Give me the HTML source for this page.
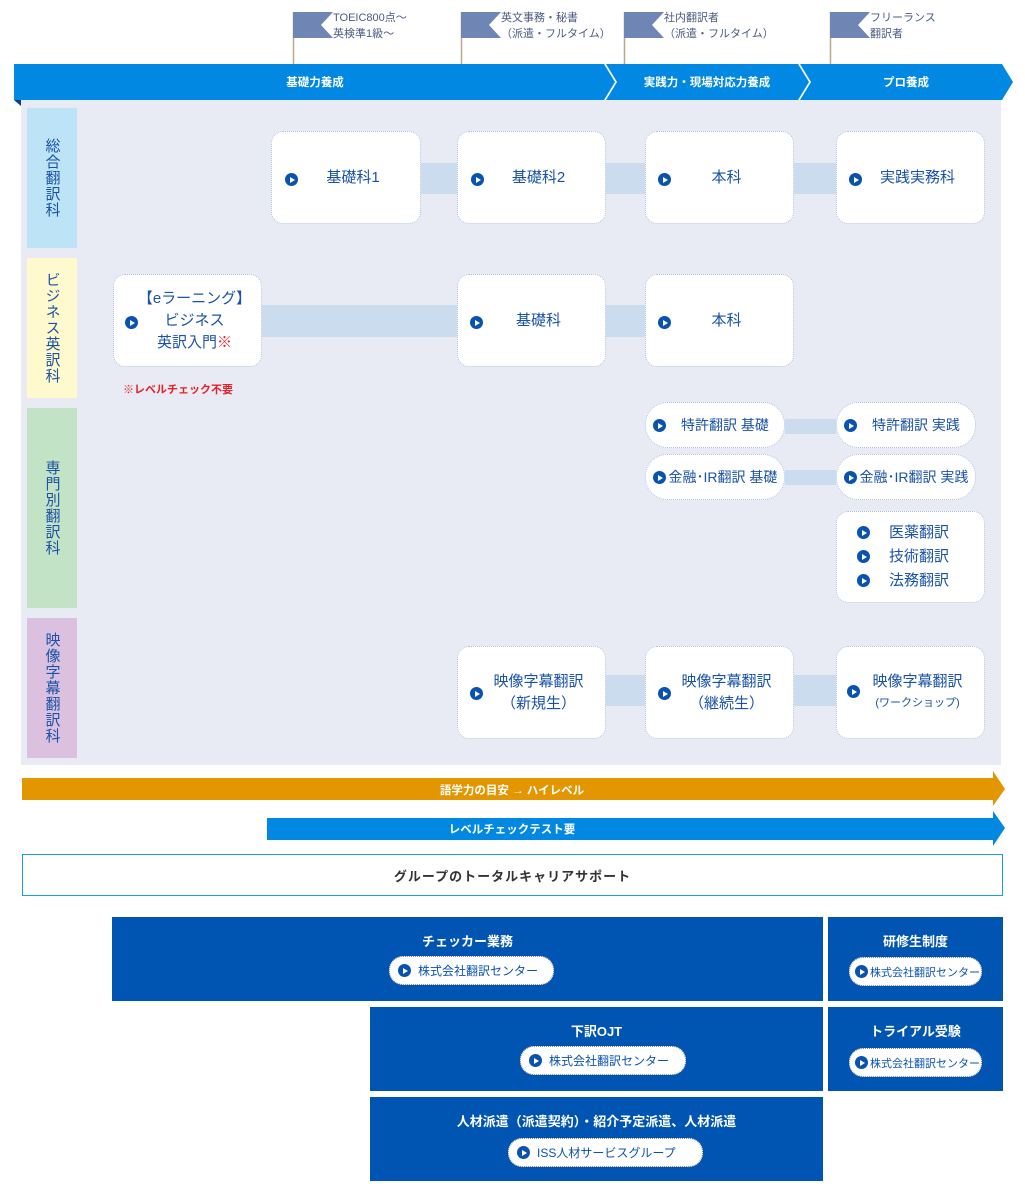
<!DOCTYPE html>
<html><head><meta charset="utf-8">
<style>
*{margin:0;padding:0;box-sizing:border-box}
body{width:1025px;height:1193px;background:#fff;position:relative;overflow:hidden;font-family:"Liberation Sans","Noto Sans CJK JP",sans-serif}
.a{position:absolute}
.box{position:absolute;background:#fff;border:1px dotted #a9bfdc;border-radius:12px;color:#1a52a8;font-size:15px;display:flex;align-items:center;justify-content:center;text-align:center;line-height:22px;padding-left:14px}
.pill{border-radius:22px;font-size:14px;padding-left:20px}
.ic{position:absolute;width:13px;height:13px;border-radius:50%;background:#0a52b0}
.ic:after{content:"";position:absolute;left:5px;top:3.5px;border-left:5px solid #fff;border-top:3px solid transparent;border-bottom:3px solid transparent}
.con{position:absolute;background:#cadcee}
.lab{position:absolute;left:27px;width:50px;color:#1a52a8;font-size:15px;display:flex;align-items:center;justify-content:center;writing-mode:vertical-rl;text-orientation:upright;letter-spacing:1px}
.flagt{position:absolute;font-size:11px;color:#4a5a80;line-height:16px}
.db{position:absolute;background:#0055b3;color:#fff;font-weight:bold;font-size:13px;text-align:center}
.db .t{position:absolute;left:0;right:0;top:14px}
.wp{position:absolute;background:#fff;border:1px dotted #889;border-radius:14px;color:#0a52b0;font-size:12px;height:29px;display:flex;align-items:center;padding-left:28px;font-weight:normal}
.wp .ic{left:8px;top:7px}
</style></head><body>

<svg class="a" style="left:0;top:0" width="1025" height="110">
<line x1="293.5" y1="12" x2="293.5" y2="64" stroke="#b9a88e" stroke-width="1.5"/>
<line x1="461.5" y1="12" x2="461.5" y2="64" stroke="#b9a88e" stroke-width="1.5"/>
<line x1="624.5" y1="12" x2="624.5" y2="64" stroke="#b9a88e" stroke-width="1.5"/>
<line x1="830.5" y1="12" x2="830.5" y2="64" stroke="#b9a88e" stroke-width="1.5"/>
<g fill="#6f86b5">
<polygon points="293,12 333,12 321,25 333,38 293,38"/>
<polygon points="461,12 501,12 489,25 501,38 461,38"/>
<polygon points="624,12 664,12 652,25 664,38 624,38"/>
<polygon points="830,12 870,12 858,25 870,38 830,38"/>
</g>
<g fill="#0088e2">
<polygon points="14,64 604,64 615,82 604,100 14,100"/>
<polygon points="606,64 798,64 809,82 798,100 606,100 617,82"/>
<polygon points="800,64 1002,64 1013,82 1002,100 800,100 811,82"/>
</g>
<g fill="#0a3f80">
<polygon points="14,100 21,100 21,106"/>
<polygon points="608,100 615,100 615,106"/>
<polygon points="802,100 809,100 809,106"/>
</g>
<g fill="#fff" font-size="11.5" font-weight="bold" text-anchor="middle" font-family="Liberation Sans,Noto Sans CJK JP,sans-serif">
<text x="315" y="86">基礎力養成</text>
<text x="707" y="86">実践力・現場対応力養成</text>
<text x="906" y="86">プロ養成</text>
</g>
</svg>
<div class="flagt" style="left:333px;top:10px">TOEIC800点～<br>英検準1級～</div>
<div class="flagt" style="left:501px;top:10px">英文事務・秘書<br>（派遣・フルタイム）</div>
<div class="flagt" style="left:664px;top:10px">社内翻訳者<br>（派遣・フルタイム）</div>
<div class="flagt" style="left:870px;top:10px">フリーランス<br>翻訳者</div>

<div class="a" style="left:21px;top:100px;width:980px;height:665px;background:#e8ebf3"></div>
<div class="lab" style="top:108px;height:140px;background:#bde3f7">総合翻訳科</div>
<div class="lab" style="top:258px;height:140px;background:#fffacd">ビジネス英訳科</div>
<div class="lab" style="top:408px;height:200px;background:#c3e3c7">専門別翻訳科</div>
<div class="lab" style="top:618px;height:140px;background:#dcc0df">映像字幕翻訳科</div>

<div class="con" style="left:421px;top:163px;width:415px;height:31px"></div>
<div class="con" style="left:262px;top:305px;width:383px;height:32px"></div>
<div class="con" style="left:785px;top:419px;width:51px;height:15px"></div>
<div class="con" style="left:785px;top:470px;width:51px;height:15px"></div>
<div class="con" style="left:606px;top:675px;width:230px;height:31px"></div>

<div class="box" style="left:271px;top:131px;width:150px;height:93px"><span class="ic" style="left:13px;top:41px"></span>基礎科1</div>
<div class="box" style="left:457px;top:131px;width:149px;height:93px"><span class="ic" style="left:13px;top:41px"></span>基礎科2</div>
<div class="box" style="left:645px;top:131px;width:149px;height:93px"><span class="ic" style="left:12px;top:41px"></span>本科</div>
<div class="box" style="left:836px;top:131px;width:149px;height:93px"><span class="ic" style="left:12px;top:41px"></span>実践実務科</div>

<div class="box" style="left:113px;top:274px;width:149px;height:93px"><span class="ic" style="left:11px;top:41px"></span><span>【eラーニング】<br>ビジネス<br>英訳入門<span style="color:#e8202a">※</span></span></div>
<div class="a" style="left:123px;top:381px;color:#e8202a;font-size:11px;font-weight:bold">※レベルチェック不要</div>
<div class="box" style="left:457px;top:274px;width:149px;height:93px"><span class="ic" style="left:12px;top:41px"></span>基礎科</div>
<div class="box" style="left:645px;top:274px;width:149px;height:93px"><span class="ic" style="left:12px;top:41px"></span>本科</div>

<div class="box pill" style="left:645px;top:402px;width:140px;height:46px"><span class="ic" style="left:7px;top:16px"></span>特許翻訳 基礎</div>
<div class="box pill" style="left:836px;top:402px;width:140px;height:46px"><span class="ic" style="left:7px;top:16px"></span>特許翻訳 実践</div>
<div class="box pill" style="left:645px;top:454px;width:140px;height:46px;padding-left:16px"><span class="ic" style="left:7px;top:16px"></span>金融･IR翻訳 基礎</div>
<div class="box pill" style="left:836px;top:454px;width:140px;height:46px;padding-left:16px"><span class="ic" style="left:7px;top:16px"></span>金融･IR翻訳 実践</div>
<div class="box" style="left:836px;top:511px;width:149px;height:92px;line-height:24px;padding-left:48px;justify-content:flex-start">
<span class="ic" style="left:20px;top:14px"></span><span class="ic" style="left:20px;top:38px"></span><span class="ic" style="left:20px;top:62px"></span>
<span style="padding-left:4px">医薬翻訳<br>技術翻訳<br>法務翻訳</span></div>

<div class="box" style="left:457px;top:646px;width:149px;height:93px"><span class="ic" style="left:12px;top:40px"></span><span>映像字幕翻訳<br>（新規生）</span></div>
<div class="box" style="left:645px;top:646px;width:149px;height:93px"><span class="ic" style="left:12px;top:40px"></span><span>映像字幕翻訳<br>（継続生）</span></div>
<div class="box" style="left:836px;top:646px;width:149px;height:93px;line-height:20px"><span class="ic" style="left:10px;top:38px"></span><span>映像字幕翻訳<br><span style="font-size:11px">(ワークショップ)</span></span></div>

<svg class="a" style="left:0;top:765px" width="1025" height="90">
<polygon points="22,13 993,13 993,6 1005,24 993,41 993,35 22,35" fill="#e39600"/>
<polygon points="267,53 993,53 993,46 1005,63 993,81 993,75 267,75" fill="#0088e2"/>
<g fill="#fff" font-size="11.5" font-weight="bold" text-anchor="middle" font-family="Liberation Sans,Noto Sans CJK JP,sans-serif">
<text x="512" y="29">語学力の目安 → ハイレベル</text>
<text x="512" y="68">レベルチェックテスト要</text>
</g>
</svg>
<div class="a" style="left:22px;top:854px;width:981px;height:42px;border:1px solid #1aa0e0;display:flex;align-items:center;justify-content:center;font-size:13px;font-weight:bold;color:#333;letter-spacing:1px">グループのトータルキャリアサポート</div>

<div class="db" style="left:112px;top:917px;width:711px;height:84px"><div class="t">チェッカー業務</div><div class="wp" style="left:277px;top:39px;width:165px"><span class="ic"></span>株式会社翻訳センター</div></div>
<div class="db" style="left:828px;top:917px;width:175px;height:84px"><div class="t">研修生制度</div><div class="wp" style="left:21px;top:40px;width:133px;padding-left:20px;font-size:11px"><span class="ic" style="left:5px"></span>株式会社翻訳センター</div></div>
<div class="db" style="left:370px;top:1007px;width:453px;height:84px"><div class="t">下訳OJT</div><div class="wp" style="left:150px;top:39px;width:166px"><span class="ic"></span>株式会社翻訳センター</div></div>
<div class="db" style="left:828px;top:1007px;width:175px;height:84px"><div class="t">トライアル受験</div><div class="wp" style="left:21px;top:41px;width:133px;padding-left:20px;font-size:11px"><span class="ic" style="left:5px"></span>株式会社翻訳センター</div></div>
<div class="db" style="left:370px;top:1097px;width:453px;height:84px"><div class="t">人材派遣（派遣契約）・紹介予定派遣、人材派遣</div><div class="wp" style="left:138px;top:41px;width:195px"><span class="ic"></span>ISS人材サービスグループ</div></div>

</body></html>
